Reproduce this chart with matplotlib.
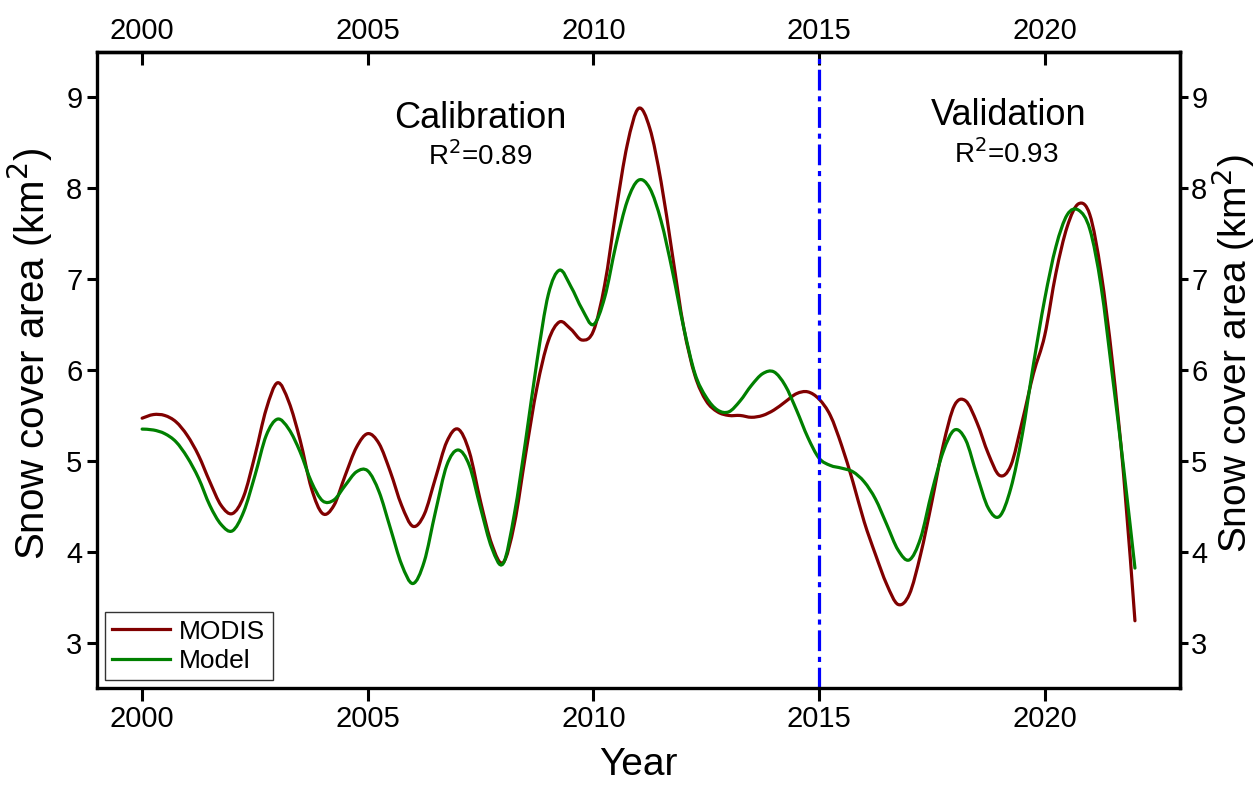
import numpy as np
import matplotlib
matplotlib.use('Agg')
import matplotlib.pyplot as plt
from matplotlib.path import Path
from matplotlib.patches import PathPatch
from matplotlib.lines import Line2D

plt.rcParams['font.family'] = ['Liberation Sans', 'DejaVu Sans']

# quarter-year samples, 2000 .. 2022
years = np.arange(2000, 2022.01, 0.25)

modis = [5.47, 5.51, 5.50, 5.43,
         5.28, 5.06, 4.77, 4.51,
         4.42, 4.61, 5.06, 5.57,
         5.86, 5.65, 5.23, 4.70,
         4.42, 4.51, 4.84, 5.15,
         5.30, 5.19, 4.88, 4.51,
         4.28, 4.41, 4.81, 5.21,
         5.35, 5.10, 4.55, 4.08,
         3.88, 4.31, 5.08, 5.81,
         6.32, 6.53, 6.45, 6.33,
         6.43, 6.94, 7.75, 8.48,
         8.88, 8.66, 8.07, 7.27,
         6.47, 5.94, 5.66, 5.54,
         5.50, 5.50, 5.48, 5.50,
         5.56, 5.65, 5.74, 5.76,
         5.68, 5.50, 5.17, 4.77,
         4.33, 3.97, 3.64, 3.42,
         3.53, 3.97, 4.55, 5.17,
         5.61, 5.66, 5.42, 5.08,
         4.84, 4.95, 5.43, 5.96,
         6.38, 7.07, 7.58, 7.83,
         7.71, 7.07, 6.09, 4.84,
         3.24]

model = [5.35, 5.34, 5.30, 5.21,
         5.04, 4.81, 4.51, 4.30,
         4.23, 4.44, 4.84, 5.28,
         5.46, 5.35, 5.10, 4.77,
         4.56, 4.57, 4.73, 4.88,
         4.89, 4.66, 4.26, 3.86,
         3.65, 3.89, 4.44, 4.95,
         5.12, 4.95, 4.48, 4.04,
         3.87, 4.42, 5.23, 6.10,
         6.83, 7.10, 6.92, 6.67,
         6.50, 6.80, 7.38, 7.86,
         8.09, 8.00, 7.64, 7.09,
         6.47, 5.96, 5.70, 5.56,
         5.54, 5.66, 5.83, 5.96,
         5.98, 5.83, 5.56, 5.26,
         5.03, 4.95, 4.92, 4.88,
         4.77, 4.58, 4.30, 4.02,
         3.91, 4.15, 4.66, 5.10,
         5.34, 5.23, 4.84, 4.48,
         4.39, 4.70, 5.28, 6.06,
         6.78, 7.36, 7.71, 7.76,
         7.55, 6.92, 5.94, 4.92,
         3.82]

split_year = 2015
xticks = [2000, 2005, 2010, 2015, 2020]
yticks = [3, 4, 5, 6, 7, 8, 9]
ylab = 'Snow cover area (km$^2$)'


def smooth_path(x, y):
    # bezier path through every point (catmull-rom style tangents)
    p = np.column_stack([x, y])
    ext = np.vstack([p[0], p, p[-1]])
    verts = [p[0]]
    codes = [Path.MOVETO]
    for i in range(len(p) - 1):
        c1 = ext[i + 1] + (ext[i + 2] - ext[i]) / 6.0
        c2 = ext[i + 2] - (ext[i + 3] - ext[i + 1]) / 6.0
        verts += [c1, c2, ext[i + 2]]
        codes += [Path.CURVE4] * 3
    return Path(verts, codes)


fig = plt.figure(figsize=(12.55, 7.89), dpi=100)
ax = fig.add_axes([0.0773, 0.128, 0.8630, 0.806])

series = [('MODIS', modis, '#800000'), ('Model', model, '#008000')]
handles = []
for name, vals, col in series:
    ax.add_patch(PathPatch(smooth_path(years, vals), fill=False, edgecolor=col,
                           lw=2.3, capstyle='round', joinstyle='round'))
    handles.append(Line2D([], [], color=col, lw=2.3, label=name))

ax.axvline(split_year, color='#0000ff', lw=2.3, dashes=(6.5, 1.8, 1.6, 1.8))

ax.set_xlim(1999, 2023)
ax.set_ylim(2.5, 9.5)
ax.set_xticks(xticks)
ax.set_yticks(yticks)

for sp in ax.spines.values():
    sp.set_linewidth(2.4)

ax.tick_params(axis='x', direction='out', length=9, width=2.2, labelsize=21)
ax.tick_params(axis='y', direction='out', length=7, width=2.2, labelsize=21)

top = ax.secondary_xaxis('top')
top.set_xticks(xticks)
top.tick_params(direction='in', length=9, width=2.2, labelsize=21, pad=5)
top.spines['top'].set_linewidth(2.4)

right = ax.secondary_yaxis('right')
right.set_yticks(yticks)
right.tick_params(direction='out', length=6, width=2.2, labelsize=21, pad=2)
right.spines['right'].set_linewidth(2.4)

fig.text(0.509, 0.030, 'Year', fontsize=28, ha='center', va='center')
fig.text(30 / 1255, 1 - 354 / 789, ylab, fontsize=29, rotation=90,
         ha='center', va='center')
fig.text(1233 / 1255, 1 - 354 / 789, ylab, fontsize=28, rotation=90,
         ha='center', va='center')

ax.text(2007.5, 8.77, 'Calibration', fontsize=26, ha='center', va='center')
ax.text(2007.5, 8.36, 'R$^2$=0.89', fontsize=20, ha='center', va='center')
ax.text(2019.2, 8.80, 'Validation', fontsize=26, ha='center', va='center')
ax.text(2019.15, 8.38, 'R$^2$=0.93', fontsize=20, ha='center', va='center')

leg = ax.legend(handles=handles, loc='lower left', bbox_to_anchor=(0.007, 0.012),
                borderaxespad=0, fontsize=19, frameon=True, fancybox=False,
                handlelength=2.2, borderpad=0.28, labelspacing=0.2, handletextpad=0.35)
leg.get_frame().set_edgecolor('black')
leg.get_frame().set_linewidth(1.0)

fig.savefig('out.png', dpi=100)
